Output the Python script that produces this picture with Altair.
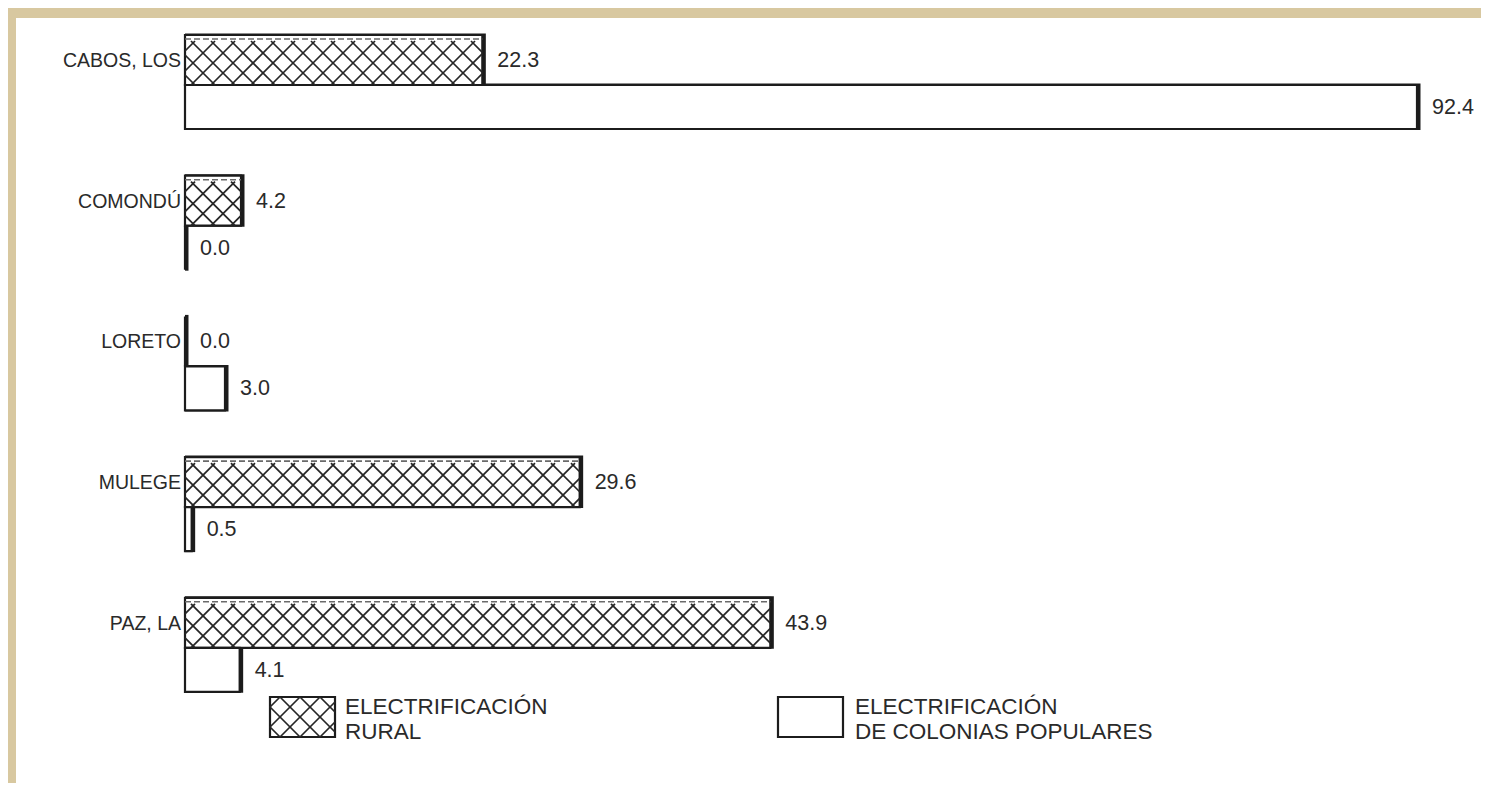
import altair as alt
import pandas as pd

# ---------------- data ----------------
categories = ["CABOS, LOS", "COMONDÚ", "LORETO", "MULEGE", "PAZ, LA"]
rural = [22.3, 4.2, 0.0, 29.6, 43.9]
colonias = [92.4, 0.0, 3.0, 0.5, 4.1]
series_names = ["ELECTRIFICACIÓN\nRURAL", "ELECTRIFICACIÓN\nDE COLONIAS POPULARES"]

# ---------------- layout ----------------
PLOT_W = 1280
X_MAX = 96
KX = PLOT_W / X_MAX          # px per value unit
N = len(categories)
KY = 140.7                   # px per group unit
PLOT_H = KY * N
RURAL_H = 50 / KY
COL_H = 44 / KY
FONT = "Liberation Sans, Arial, Helvetica, sans-serif"
INK = "#1c1c1c"
TXT = "#2a2a2a"

rows = []
for i, c in enumerate(categories):
    rows.append(dict(cat=c, serie="rural", value=rural[i], y0=i, y1=i + RURAL_H,
                     ymid=i + RURAL_H / 2))
    rows.append(dict(cat=c, serie="colonias", value=colonias[i], y0=i + RURAL_H,
                     y1=i + RURAL_H + COL_H, ymid=i + RURAL_H + COL_H / 2))
bars = pd.DataFrame(rows)
bars["zero"] = 0.0


def hatch(x0, x1, y0, y1, step=20.0):
    """crosshatch segments inside a rectangle given in px, returned in data units"""
    W, H = x1 - x0, y1 - y0
    segs = []
    if W <= 1 or H <= 1:
        return segs
    c = -H + step / 2
    while c < W:
        t0, t1 = max(0.0, -c), min(H, W - c)
        if t1 > t0:
            segs.append((x0 + c + t0, y0 + t0, x0 + c + t1, y0 + t1))
        c += step
    c = step / 2
    while c < W + H:
        t0, t1 = max(0.0, c - W), min(H, c)
        if t1 > t0:
            segs.append((x0 + c - t0, y0 + t0, x0 + c - t1, y0 + t1))
        c += step
    return [dict(hx=a / KX, hy=b / KY, hx2=cc / KX, hy2=d / KY) for a, b, cc, d in segs]


hrows = []
for i, v in enumerate(rural):
    hrows += hatch(0, v * KX, i * KY + 6, i * KY + 50)
hdf = pd.DataFrame(hrows)

# legend (px relative to plot origin)
LEG_BOX = [(85, 150), (593, 658)]
LEG_Y = (662, 702)
LEG_TX = [160, 670]
leg = pd.DataFrame(dict(
    name=series_names,
    lx0=[b[0] / KX for b in LEG_BOX], lx1=[b[1] / KX for b in LEG_BOX],
    ly0=[LEG_Y[0] / KY] * 2, ly1=[LEG_Y[1] / KY] * 2,
    tx=[t / KX for t in LEG_TX], ty=[(LEG_Y[0] - 1) / KY] * 2,
))
lhdf = pd.DataFrame(hatch(LEG_BOX[0][0], LEG_BOX[0][1], LEG_Y[0], LEG_Y[1]))

xs = alt.Scale(domain=[0, X_MAX], nice=False, zero=False)
ys = alt.Scale(domain=[0, N], nice=False, zero=False, reverse=True)

panel = alt.Chart(pd.DataFrame({"a": [0]})).mark_rect(fill="white").encode(
    x=alt.value(-169), x2=alt.value(PLOT_W + 60),
    y=alt.value(-17), y2=alt.value(PLOT_H + 90))

base = alt.Chart(bars)

shadow = base.mark_rect(fill=INK, x2Offset=3.5, yOffset=-1.5, y2Offset=1).encode(
    x=alt.X("zero:Q", scale=xs, axis=None), x2="value:Q",
    y=alt.Y("y0:Q", scale=ys, axis=None), y2="y1:Q")

face = base.mark_rect(fill="white", stroke=INK, strokeWidth=2.2).encode(
    x=alt.X("zero:Q", scale=xs, axis=None), x2="value:Q",
    y=alt.Y("y0:Q", scale=ys, axis=None), y2="y1:Q")


def hatch_layer(df):
    return alt.Chart(df).mark_rule(color="#262626", strokeWidth=1.7).encode(
        x=alt.X("hx:Q", scale=xs, axis=None), x2="hx2:Q",
        y=alt.Y("hy:Q", scale=ys, axis=None), y2="hy2:Q")


dash = base.transform_filter(alt.datum.serie == "rural").mark_rule(
    color="#6a6a6a", strokeWidth=1.6, strokeDash=[6, 3], yOffset=4).encode(
    x=alt.X("zero:Q", scale=xs, axis=None), x2="value:Q",
    y=alt.Y("y0:Q", scale=ys, axis=None))

vals = base.mark_text(align="left", baseline="middle", dx=15, dy=1, fontSize=21.5,
                      font=FONT, color=TXT).encode(
    x=alt.X("value:Q", scale=xs, axis=None),
    y=alt.Y("ymid:Q", scale=ys, axis=None),
    text=alt.Text("value:Q", format=".1f"))

cats = base.transform_filter(alt.datum.serie == "rural").mark_text(
    align="right", baseline="middle", dx=-4, dy=1, fontSize=19.5, font=FONT, color=TXT).encode(
    x=alt.X("zero:Q", scale=xs, axis=None),
    y=alt.Y("ymid:Q", scale=ys, axis=None),
    text="cat:N")

legc = alt.Chart(leg)
leg_box = legc.mark_rect(fill="white", stroke=INK, strokeWidth=2.2).encode(
    x=alt.X("lx0:Q", scale=xs, axis=None), x2="lx1:Q",
    y=alt.Y("ly0:Q", scale=ys, axis=None), y2="ly1:Q")
leg_txt = legc.mark_text(align="left", baseline="top", fontSize=22.5, font=FONT,
                         color=TXT, lineBreak="\n", lineHeight=25).encode(
    x=alt.X("tx:Q", scale=xs, axis=None),
    y=alt.Y("ty:Q", scale=ys, axis=None),
    text="name:N")

chart = alt.layer(panel, shadow, face, hatch_layer(hdf), dash, vals, cats,
                  leg_box, hatch_layer(lhdf), leg_txt).properties(
    width=PLOT_W, height=PLOT_H,
    padding={"left": 177, "top": 27, "right": 16, "bottom": 44},
    autosize=alt.AutoSizeParams(type="none"),
    background="#d8c8a0",
).configure_view(stroke=None)

chart.save("out.html", embed_options={"renderer": "svg", "actions": False})
